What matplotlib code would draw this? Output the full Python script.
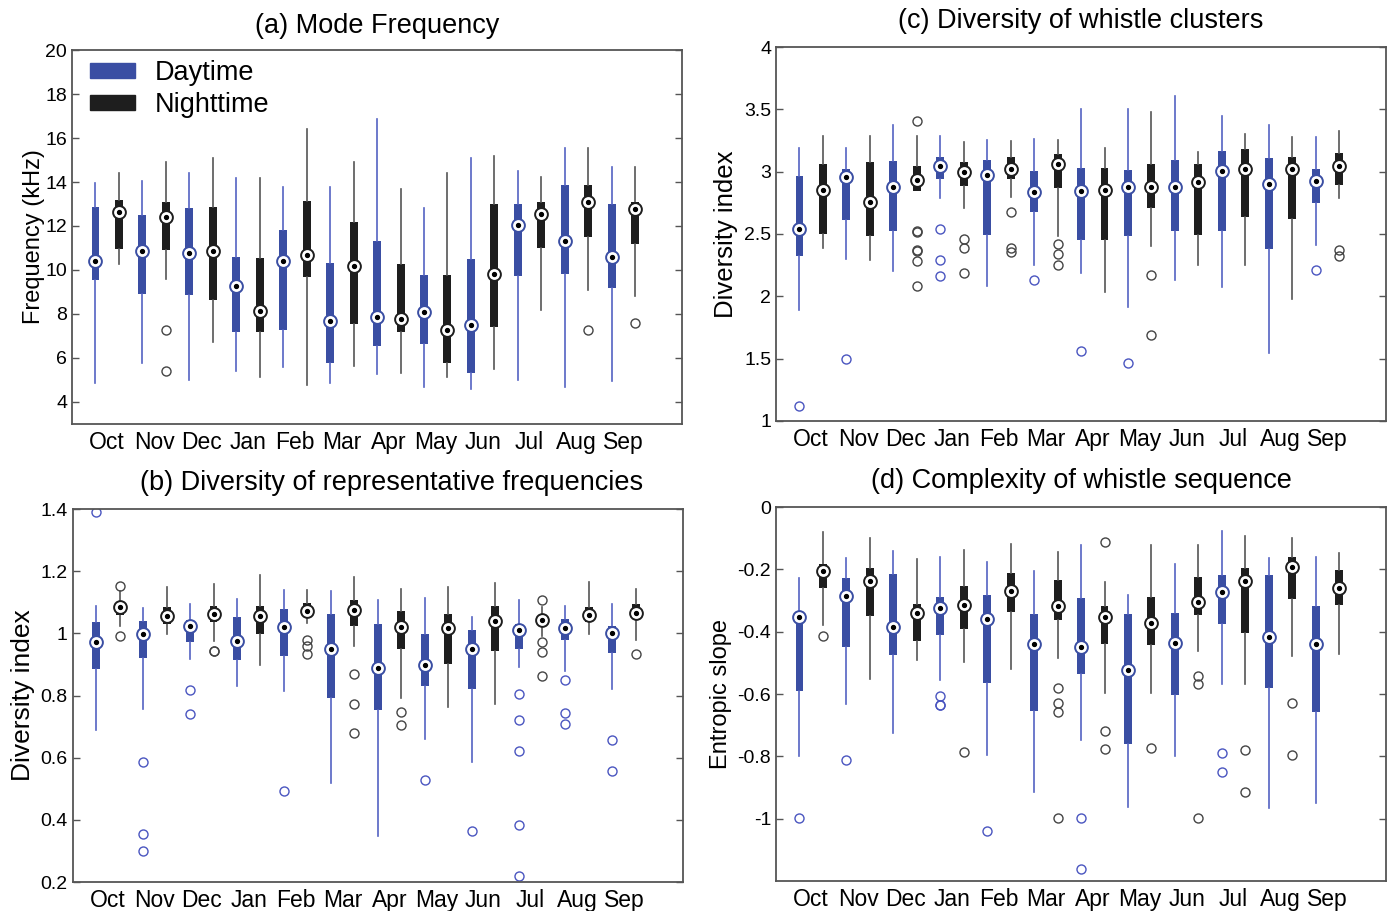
import matplotlib
matplotlib.use('Agg')
import matplotlib.pyplot as plt
from matplotlib.patches import Patch
from matplotlib.ticker import FormatStrFormatter
import numpy as np

plt.rcParams['font.family'] = 'Liberation Sans'
plt.rcParams['axes.unicode_minus'] = False

months = ['Oct', 'Nov', 'Dec', 'Jan', 'Feb', 'Mar', 'Apr', 'May', 'Jun', 'Jul', 'Aug', 'Sep']

# each list: 24 groups, day/night alternating per month (Oct day, Oct night, Nov day, ...)
# (a) Mode Frequency (kHz)
a_whislo = [4.87, 10.28, 5.78, 9.57, 5.02, 6.73, 5.40, 5.14, 5.60, 4.76, 4.87, 5.63,
            5.25, 5.33, 4.67, 5.14, 4.57, 5.51, 5.02, 8.16, 4.69, 9.08, 4.95, 8.81]
a_q1 = [9.54, 10.96, 8.93, 10.93, 8.85, 8.64, 7.20, 7.19, 7.29, 9.69, 5.75, 7.55,
        6.54, 7.20, 6.64, 5.75, 5.33, 7.40, 9.72, 10.98, 9.83, 11.51, 9.17, 11.20]
a_med = [10.40, 12.64, 10.86, 12.40, 10.77, 10.86, 9.28, 8.13, 10.40, 10.66, 7.67, 10.20,
         7.87, 7.75, 8.10, 7.29, 7.49, 9.83, 12.04, 12.55, 11.34, 13.10, 10.58, 12.75]
a_q3 = [12.87, 13.20, 12.52, 13.10, 12.83, 12.87, 10.61, 10.55, 11.84, 13.13, 10.34, 12.17,
        11.34, 10.29, 9.75, 9.78, 10.48, 13.02, 13.02, 13.10, 13.86, 13.86, 12.98, 13.10]
a_whishi = [13.96, 14.42, 14.04, 14.90, 14.42, 15.10, 14.16, 14.16, 13.76, 16.42, 13.76, 14.90,
            16.87, 13.69, 12.83, 14.42, 15.10, 15.17, 14.52, 14.23, 15.55, 15.55, 14.69, 14.69]
a_fliers = [[], [], [], [7.29, 5.43], [], [], [], [], [], [], [], [],
            [], [], [], [], [], [], [], [], [], [7.29], [], [7.57]]
a_ticks = [4, 6, 8, 10, 12, 14, 16, 18, 20]

# (b) Diversity of representative frequencies
b_whislo = [0.688, 1.023, 0.757, 0.998, 0.919, 0.974, 0.832, 0.897, 0.814, 1.033, 0.519, 0.958,
            0.347, 0.791, 0.661, 0.762, 0.585, 0.774, 0.892, 0.993, 0.878, 0.997, 0.822, 0.980]
b_q1 = [0.885, 1.060, 0.921, 1.031, 0.971, 1.037, 0.915, 0.997, 0.928, 1.055, 0.792, 1.025,
        0.753, 0.951, 0.830, 0.902, 0.822, 0.942, 0.951, 1.031, 0.980, 1.037, 0.938, 1.053]
b_med = [0.971, 1.084, 0.997, 1.057, 1.023, 1.063, 0.974, 1.055, 1.019, 1.073, 0.950, 1.074,
         0.888, 1.020, 0.897, 1.017, 0.950, 1.040, 1.010, 1.042, 1.018, 1.059, 1.000, 1.064]
b_q3 = [1.037, 1.098, 1.039, 1.085, 1.044, 1.089, 1.053, 1.089, 1.079, 1.098, 1.062, 1.106,
        1.031, 1.073, 0.999, 1.062, 1.012, 1.089, 1.030, 1.055, 1.047, 1.086, 1.025, 1.094]
b_whishi = [1.087, 1.135, 1.081, 1.148, 1.094, 1.160, 1.110, 1.189, 1.140, 1.138, 1.135, 1.181,
            1.108, 1.144, 1.114, 1.149, 1.053, 1.162, 1.108, 1.085, 1.089, 1.165, 1.095, 1.143]
b_fliers = [[1.389], [1.151, 0.990], [0.585, 0.356, 0.299], [], [0.817, 0.741], [0.942, 0.942],
            [], [], [0.492], [0.978, 0.958, 0.934], [], [0.870, 0.772, 0.680],
            [], [0.748, 0.705], [0.529], [], [0.364], [],
            [0.804, 0.722, 0.622, 0.385, 0.219], [1.107, 0.973, 0.939, 0.864],
            [0.851, 0.744, 0.710], [], [0.656, 0.556], [0.935]]
b_ticks = [0.2, 0.4, 0.6, 0.8, 1.0, 1.2, 1.4]

# (c) Diversity of whistle clusters
c_whislo = [1.892, 2.387, 2.298, 2.288, 2.207, 2.841, 2.785, 2.708, 2.084, 2.796, 2.248, 2.486,
            2.186, 2.034, 1.918, 2.405, 2.132, 2.253, 2.074, 2.248, 1.549, 1.977, 2.413, 2.788]
c_q1 = [2.325, 2.502, 2.609, 2.486, 2.526, 2.841, 2.940, 2.882, 2.494, 2.940, 2.676, 2.865,
        2.451, 2.451, 2.480, 2.710, 2.526, 2.488, 2.526, 2.633, 2.381, 2.622, 2.745, 2.897]
c_med = [2.539, 2.855, 2.956, 2.753, 2.876, 2.935, 3.047, 2.997, 2.972, 3.023, 2.839, 3.063,
         2.841, 2.855, 2.874, 2.874, 2.874, 2.919, 3.007, 3.023, 2.903, 3.021, 2.924, 3.042]
c_q3 = [2.962, 3.063, 3.021, 3.074, 3.085, 3.042, 3.117, 3.074, 3.090, 3.117, 3.007, 3.141,
        3.026, 3.031, 3.010, 3.063, 3.090, 3.058, 3.165, 3.184, 3.109, 3.117, 3.023, 3.149]
c_whishi = [3.186, 3.283, 3.186, 3.288, 3.371, 3.288, 3.288, 3.235, 3.256, 3.248, 3.261, 3.256,
            3.505, 3.189, 3.502, 3.475, 3.609, 3.157, 3.449, 3.302, 3.376, 3.275, 3.277, 3.323]
c_fliers = [[1.121], [], [1.499], [], [], [3.403, 2.528, 2.512, 2.373, 2.360, 2.280, 2.079],
            [2.542, 2.293, 2.167], [2.459, 2.387, 2.186], [], [2.673, 2.387, 2.352], [2.132],
            [2.419, 2.341, 2.253],
            [1.560], [], [1.464], [2.173, 1.688], [], [], [], [], [], [], [2.210], [2.373, 2.320]]
c_ticks = [1, 1.5, 2, 2.5, 3, 3.5, 4]

# (d) Complexity of whistle sequence (entropic slope)
d_whislo = [-0.800, -0.378, -0.632, -0.552, -0.724, -0.491, -0.555, -0.496, -0.794, -0.520, -0.914, -0.483,
            -0.748, -0.596, -0.963, -0.598, -0.799, -0.462, -0.569, -0.569, -0.965, -0.478, -0.950, -0.470]
d_q1 = [-0.591, -0.260, -0.448, -0.349, -0.476, -0.431, -0.410, -0.392, -0.566, -0.337, -0.654, -0.362,
        -0.536, -0.440, -0.761, -0.442, -0.602, -0.347, -0.376, -0.405, -0.582, -0.296, -0.659, -0.314]
d_med = [-0.352, -0.204, -0.285, -0.237, -0.386, -0.341, -0.323, -0.315, -0.360, -0.269, -0.440, -0.319,
         -0.448, -0.354, -0.523, -0.373, -0.437, -0.304, -0.273, -0.238, -0.418, -0.193, -0.440, -0.261]
d_q3 = [-0.333, -0.182, -0.227, -0.196, -0.216, -0.312, -0.287, -0.252, -0.281, -0.212, -0.343, -0.234,
        -0.291, -0.319, -0.344, -0.287, -0.339, -0.223, -0.219, -0.197, -0.218, -0.161, -0.318, -0.203]
d_whishi = [-0.228, -0.080, -0.165, -0.098, -0.141, -0.167, -0.161, -0.139, -0.177, -0.118, -0.204, -0.143,
            -0.123, -0.239, -0.282, -0.121, -0.182, -0.121, -0.076, -0.092, -0.165, -0.100, -0.159, -0.146]
d_fliers = [[-0.997], [-0.414], [-0.812], [], [], [], [-0.606, -0.636, -0.636], [-0.787], [-1.038], [],
            [], [-0.580, -0.630, -0.658, -0.997],
            [-0.997, -1.163], [-0.113, -0.718, -0.775], [], [-0.772], [], [-0.541, -0.568, -0.997],
            [-0.788, -0.851], [-0.780, -0.913], [], [-0.629, -0.794], [], []]
d_ticks = [-1, -0.8, -0.6, -0.4, -0.2, 0]

day_color = '#3a4ea3'
day_whisker = '#5462c2'
day_flier = '#4a55c0'
night_color = '#1e1e1e'
night_whisker = '#555555'
night_flier = '#444444'
spine_color = '#555555'


def draw_panel(ax, whislo, q1, med, q3, whishi, fliers, ticks):
    stats = [dict(whislo=whislo[i], q1=q1[i], med=med[i], q3=q3[i], whishi=whishi[i], fliers=fliers[i])
             for i in range(len(med))]
    pos = np.arange(1, len(med) + 1)
    med = np.array(med)
    for start, face, wcol, fcol in ((0, day_color, day_whisker, day_flier),
                                    (1, night_color, night_whisker, night_flier)):
        idx = list(range(start, len(stats), 2))
        ax.bxp([stats[i] for i in idx], positions=pos[idx], widths=0.34, patch_artist=True,
               showcaps=False,
               boxprops=dict(facecolor=face, edgecolor=face, linewidth=0),
               whiskerprops=dict(color=wcol, linewidth=1.2),
               medianprops=dict(linewidth=0),
               flierprops=dict(marker='o', markerfacecolor='none', markeredgecolor=fcol,
                               markersize=6.5, markeredgewidth=1.0))
        # MATLAB-style compact median: white circle with a black dot
        ax.plot(pos[idx], med[idx], 'o', ms=9.2, mfc='white', mec=face, mew=1.4, zorder=4)
        ax.plot(pos[idx], med[idx], 'o', ms=2.8, color='black', zorder=5)
    ax.set_xlim(0, 26)
    ax.set_xticks(np.arange(1.5, 24, 2))
    ax.set_xticklabels(months)
    ax.set_yticks(ticks)
    ax.tick_params(axis='x', length=0, labelsize=16.5, pad=5)
    ax.tick_params(axis='y', direction='in', right=True, length=5, labelsize=14,
                   color=spine_color, width=1.0)
    ax.yaxis.set_major_formatter(FormatStrFormatter('%g'))
    for sp in ax.spines.values():
        sp.set_color(spine_color)
        sp.set_linewidth(1.3)


fig = plt.figure(figsize=(13.88, 9.11), dpi=100)
ax_a = fig.add_axes([0.0519, 0.5346, 0.4395, 0.4105])
ax_b = fig.add_axes([0.0524, 0.0318, 0.4395, 0.4094])
ax_c = fig.add_axes([0.5591, 0.5379, 0.4395, 0.4105])
ax_d = fig.add_axes([0.5591, 0.0329, 0.4395, 0.4105])

draw_panel(ax_a, a_whislo, a_q1, a_med, a_q3, a_whishi, a_fliers, a_ticks)
ax_a.set_ylim(3, 20)
ax_a.set_ylabel('Frequency (kHz)', fontsize=17, labelpad=0)
ax_a.set_title('(a) Mode Frequency', fontsize=19.5, pad=12)
legend_handles = [Patch(facecolor=day_color, edgecolor=day_color),
                  Patch(facecolor=night_color, edgecolor=night_color)]
ax_a.legend(legend_handles, ['Daytime', 'Nighttime'], loc='upper left', frameon=False,
            fontsize=19.5, handlelength=1.65, handleheight=0.45, handletextpad=0.75,
            labelspacing=0.22, borderaxespad=0, borderpad=0.3,
            bbox_to_anchor=(0.0164, 0.995))

draw_panel(ax_b, b_whislo, b_q1, b_med, b_q3, b_whishi, b_fliers, b_ticks)
ax_b.set_ylim(0.2, 1.4)
ax_b.set_ylabel('Diversity index', fontsize=19)
ax_b.set_title('(b) Diversity of representative frequencies', fontsize=19.5, pad=14, x=0.522)

draw_panel(ax_c, c_whislo, c_q1, c_med, c_q3, c_whishi, c_fliers, c_ticks)
ax_c.set_ylim(1, 4)
ax_c.set_ylabel('Diversity index', fontsize=18.5)
ax_c.set_title('(c) Diversity of whistle clusters', fontsize=19.5, pad=14)

draw_panel(ax_d, d_whislo, d_q1, d_med, d_q3, d_whishi, d_fliers, d_ticks)
ax_d.set_ylim(-1.2, 0)
ax_d.set_ylabel('Entropic slope', fontsize=17)
ax_d.set_title('(d) Complexity of whistle sequence', fontsize=19.5, pad=14)

fig.savefig('out.png', dpi=100)
